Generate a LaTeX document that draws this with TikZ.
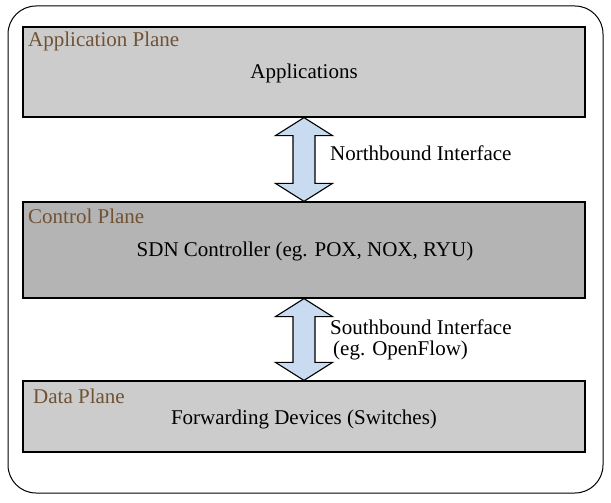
\documentclass[tikz,border=0pt]{standalone}
\usepackage{fontspec}
\setmainfont{Liberation Serif}
\usetikzlibrary{calc}
\definecolor{lightplane}{RGB}{204,204,204}
\definecolor{darkplane}{RGB}{180,180,180}
\definecolor{arrowblue}{RGB}{200,219,241}
\definecolor{labelbrown}{RGB}{112,82,52}
% two-headed block arrow between the bottom of one box and the top of the next
\newcommand{\twoway}[2]{%
\draw[twoway] (#1) -- ++(28.5,18) -- ++(-17.5,0) -- ($(#2)+(11,-18)$) -- ++(17.5,0)
  -- (#2) -- ++(-28.5,-18) -- ++(17.5,0) -- ($(#1)+(-11,18)$) -- ++(-17.5,0) -- cycle;}
\begin{document}
\begin{tikzpicture}[
x=1pt, y=-1pt,
every node/.style={font=\fontsize{21}{21}\selectfont},
plane/.style={draw, line width=1.2pt, minimum width=562pt, inner sep=0pt},
planelabel/.style={text=labelbrown, anchor=west, inner sep=0pt},
twoway/.style={draw, line width=1.1pt, fill=arrowblue, line join=miter}
]
\useasboundingbox (0,0) rectangle (611,503);
\draw[line width=1pt, rounded corners=28pt] (8,6) rectangle (603,493);

% the three planes
\node[plane, fill=lightplane, minimum height=90pt] (app) at (304,72) {};
\node[plane, fill=darkplane, minimum height=96pt] (ctrl) at (304,250) {};
\node[plane, fill=lightplane, minimum height=71pt] (data) at (304,416.5) {};

\node[planelabel] (applabel) at (28,41) {Application Plane};
\node[planelabel] (ctrllabel) at (28,216) {Control Plane};
\node[planelabel] (datalabel) at (33,396) {Data Plane};

\node (apps) at (304,73) {Applications};
\node (sdn) at (305,251) {SDN Controller (eg. POX, NOX, RYU)};
\node (fwd) at (304,419) {Forwarding Devices (Switches)};

% interfaces
\twoway{app.south}{ctrl.north}
\twoway{ctrl.south}{data.north}
\node[anchor=west, inner sep=0pt] (north) at (330,153) {Northbound Interface};
\node[anchor=west, inner sep=0pt, align=left] (south) at (330,340)
  {Southbound Interface\\\hspace{3pt}(eg. OpenFlow)};
\end{tikzpicture}
\end{document}
